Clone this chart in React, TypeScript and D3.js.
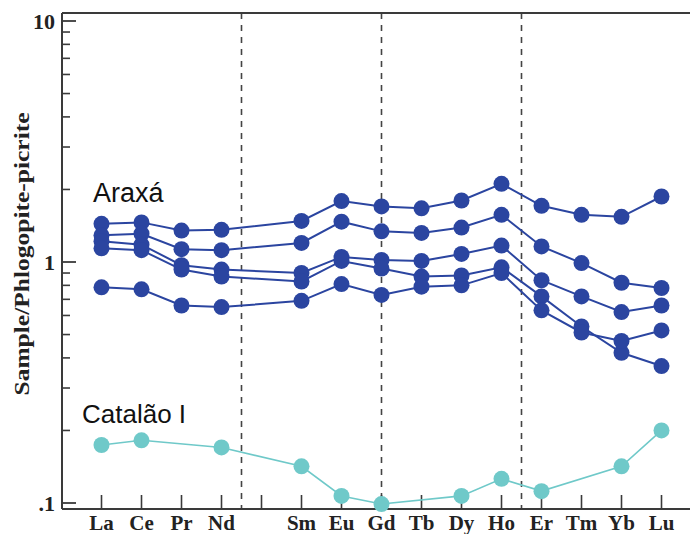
import React from "react";
import * as d3 from "d3";

// REE order, Pm included as an unlabelled slot on the axis
const elements = ["La", "Ce", "Pr", "Nd", "Pm", "Sm", "Eu", "Gd", "Tb", "Dy", "Ho", "Er", "Tm", "Yb", "Lu"];
const labelled = ["La", "Ce", "Pr", "Nd", "Sm", "Eu", "Gd", "Tb", "Dy", "Ho", "Er", "Tm", "Yb", "Lu"];

const araxaElements = ["La", "Ce", "Pr", "Nd", "Sm", "Eu", "Gd", "Tb", "Dy", "Ho", "Er", "Tm", "Yb", "Lu"];
const araxa1 = [1.44, 1.46, 1.35, 1.36, 1.48, 1.79, 1.7, 1.67, 1.8, 2.11, 1.71, 1.57, 1.54, 1.87];
const araxa2 = [1.29, 1.31, 1.13, 1.12, 1.2, 1.47, 1.34, 1.32, 1.39, 1.57, 1.16, 0.99, 0.82, 0.78];
const araxa3 = [1.22, 1.18, 0.97, 0.93, 0.9, 1.05, 1.02, 1.01, 1.08, 1.17, 0.84, 0.72, 0.62, 0.66];
const araxa4 = [1.14, 1.12, 0.93, 0.87, 0.83, 1.01, 0.94, 0.87, 0.88, 0.95, 0.72, 0.54, 0.42, 0.37];
const araxa5 = [0.785, 0.77, 0.66, 0.65, 0.69, 0.81, 0.73, 0.79, 0.8, 0.9, 0.63, 0.51, 0.47, 0.52];

const catalaoElements = ["La", "Ce", "Nd", "Sm", "Eu", "Gd", "Dy", "Ho", "Er", "Yb", "Lu"];
const catalao = [0.174, 0.182, 0.17, 0.142, 0.107, 0.099, 0.107, 0.126, 0.112, 0.142, 0.2];

const yMajorTicks = [0.1, 1, 10];
const yMajorLabels = [".1", "1", "10"];
const dividerPositions = [3.5, 7, 10.5]; // in element-index units

const W = 691;
const H = 534;
const left = 62;
const right = 690;
const top = 13;
const bottom = 509;

const BLUE = "#2b45a0";
const CYAN = "#6fc9c9";
const AXIS = "#3a3a3a";

export default function App() {
  const x = d3.scalePoint<string>().domain(elements).range([101.5, 661.5]);
  const step = x.step();
  const y = d3.scaleLog().domain([0.1, 10]).range([503, 21]);

  const minorTicks: number[] = [];
  for (const dec of [0.1, 1]) {
    for (let k = 2; k <= 9; k++) minorTicks.push(dec * k);
  }

  const line = d3
    .line<[string, number]>()
    .x((d) => x(d[0]) as number)
    .y((d) => y(d[1]));

  const araxa = [araxa1, araxa2, araxa3, araxa4, araxa5];
  const araxaPts = araxa.map((s) => araxaElements.map((e, i) => [e, s[i]] as [string, number]));
  const catPts = catalaoElements.map((e, i) => [e, catalao[i]] as [string, number]);

  const serif = "'Liberation Serif', 'Times New Roman', serif";
  const sans = "'Liberation Sans', Arial, sans-serif";

  return (
    <div style={{ position: "absolute", left: 0, top: 0, width: W, height: H, background: "#fff" }}>
      <svg width={W} height={H} style={{ display: "block" }}>
        <rect width={W} height={H} fill="#fff" />

        {/* dashed group dividers */}
        {dividerPositions.map((p, i) => {
          const xp = (x(elements[0]) as number) + p * step;
          return (
            <line key={i} x1={xp} x2={xp} y1={top} y2={bottom} stroke="#444" strokeWidth={1.6} strokeDasharray="6,6" />
          );
        })}

        {/* frame: left, top, bottom */}
        <line x1={left} x2={left} y1={top} y2={bottom} stroke={AXIS} strokeWidth={2} />
        <line x1={left} x2={right} y1={top} y2={top} stroke={AXIS} strokeWidth={2} />
        <line x1={left} x2={right} y1={bottom} y2={bottom} stroke={AXIS} strokeWidth={2} />

        {/* y ticks */}
        {yMajorTicks.map((t) => (
          <line key={"M" + t} x1={left} x2={left + 14} y1={y(t)} y2={y(t)} stroke={AXIS} strokeWidth={1.8} />
        ))}
        {minorTicks.map((t) => (
          <line key={"m" + t} x1={left} x2={left + 8} y1={y(t)} y2={y(t)} stroke={AXIS} strokeWidth={1.6} />
        ))}
        {yMajorTicks.map((t, i) => (
          <text
            key={"l" + t}
            x={55}
            y={y(t)}
            dy="0.35em"
            textAnchor="end"
            fontFamily={serif}
            fontWeight="bold"
            fontSize={22}
            fill="#222"
          >
            {yMajorLabels[i]}
          </text>
        ))}

        {/* x ticks */}
        {elements.map((e) => (
          <line key={"t" + e} x1={x(e)} x2={x(e)} y1={bottom} y2={bottom - 14} stroke={AXIS} strokeWidth={1.6} />
        ))}
        {labelled.map((e) => (
          <text
            key={"x" + e}
            x={x(e)}
            y={530}
            textAnchor="middle"
            fontFamily={serif}
            fontWeight="bold"
            fontSize={21}
            fill="#222"
          >
            {e}
          </text>
        ))}

        {/* y title */}
        <text
          transform={`translate(29,254) rotate(-90)`}
          textAnchor="middle"
          fontFamily={serif}
          fontWeight="bold"
          fontSize={22}
          textLength={283}
          lengthAdjust="spacingAndGlyphs"
          fill="#222"
        >
          Sample/Phlogopite-picrite
        </text>

        {/* Araxá series */}
        {araxaPts.map((pts, i) => (
          <path key={"al" + i} d={line(pts) || ""} fill="none" stroke={BLUE} strokeWidth={2} />
        ))}
        {araxaPts.map((pts, i) =>
          pts.map((d) => <circle key={"ac" + i + d[0]} cx={x(d[0])} cy={y(d[1])} r={8} fill={BLUE} />)
        )}

        {/* Catalão I series */}
        <path d={line(catPts) || ""} fill="none" stroke={CYAN} strokeWidth={1.6} />
        {catPts.map((d) => (
          <circle key={"cc" + d[0]} cx={x(d[0])} cy={y(d[1])} r={8} fill={CYAN} />
        ))}

        <text x={93} y={202} fontFamily={sans} fontSize={27} fill="#111">
          Araxá
        </text>
        <text x={82} y={423} fontFamily={sans} fontSize={26} fill="#111">
          Catalão I
        </text>
      </svg>
    </div>
  );
}
